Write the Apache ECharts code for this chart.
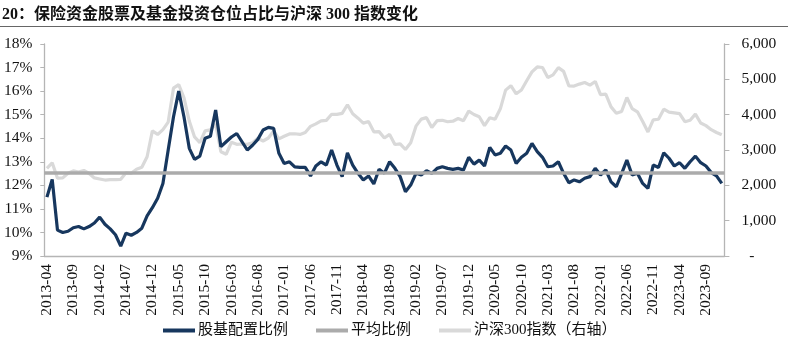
<!DOCTYPE html>
<html><head><meta charset="utf-8">
<script src="https://cdn.jsdelivr.net/npm/echarts@6/dist/echarts.min.js"></script>
<style>html,body{margin:0;padding:0;background:#fff}#c{width:788px;height:343px}</style>
</head><body><div id="c"></div>
<script>
const months = [
 '2013-04','2013-05','2013-06','2013-07','2013-08','2013-09','2013-10','2013-11','2013-12',
 '2014-01','2014-02','2014-03','2014-04','2014-05','2014-06','2014-07','2014-08','2014-09','2014-10','2014-11','2014-12',
 '2015-01','2015-02','2015-03','2015-04','2015-05','2015-06','2015-07','2015-08','2015-09','2015-10','2015-11','2015-12',
 '2016-01','2016-02','2016-03','2016-04','2016-05','2016-06','2016-07','2016-08','2016-09','2016-10','2016-11','2016-12',
 '2017-01','2017-02','2017-03','2017-04','2017-05','2017-06','2017-07','2017-08','2017-09','2017-10','2017-11','2017-12',
 '2018-01','2018-02','2018-03','2018-04','2018-05','2018-06','2018-07','2018-08','2018-09','2018-10','2018-11','2018-12',
 '2019-01','2019-02','2019-03','2019-04','2019-05','2019-06','2019-07','2019-08','2019-09','2019-10','2019-11','2019-12',
 '2020-01','2020-02','2020-03','2020-04','2020-05','2020-06','2020-07','2020-08','2020-09','2020-10','2020-11','2020-12',
 '2021-01','2021-02','2021-03','2021-04','2021-05','2021-06','2021-07','2021-08','2021-09','2021-10','2021-11','2021-12',
 '2022-01','2022-02','2022-03','2022-04','2022-05','2022-06','2022-07','2022-08','2022-09','2022-10','2022-11','2022-12',
 '2023-01','2023-02','2023-03','2023-04','2023-05','2023-06','2023-07','2023-08','2023-09','2023-10','2023-11','2023-12'
];
// 股基配置比例 (%)
const ratio = [
 11.5,12.25,10.1,10.0,10.05,10.2,10.25,10.15,10.25,
 10.4,10.65,10.35,10.15,9.9,9.42,9.97,9.88,10.0,10.18,10.7,11.05,
 11.45,12.08,13.5,14.9,16.0,14.9,13.57,13.1,13.24,14.0,14.08,15.2,
 13.64,13.85,14.05,14.2,13.85,13.5,13.7,13.95,14.35,14.46,14.42,13.36,
 12.93,13.0,12.78,12.76,12.76,12.4,12.82,13.0,12.86,13.5,12.86,12.37,
 13.38,12.86,12.51,12.23,12.4,12.06,12.68,12.51,13.0,12.72,12.37,11.73,
 12.01,12.51,12.44,12.62,12.51,12.72,12.79,12.72,12.68,12.72,12.65,13.19,
 12.9,13.07,12.82,13.61,13.29,13.36,13.67,13.5,12.93,13.19,13.36,13.78,
 13.43,13.19,12.79,12.82,13.0,12.51,12.11,12.23,12.15,12.3,12.37,12.72,
 12.44,12.65,12.15,11.94,12.5,13.07,12.44,12.51,12.08,11.87,12.86,12.76,
 13.38,13.15,12.82,12.96,12.72,13.0,13.24,12.96,12.82,12.54,12.4,12.08
];
// 沪深300指数
const hs300 = [
 2480,2640,2200,2210,2340,2410,2375,2420,2335,
 2210,2180,2150,2160,2160,2170,2355,2340,2455,2510,2810,3540,
 3440,3575,3790,4750,4850,4475,3820,3370,3210,3540,3570,3735,
 2950,2880,3220,3160,3170,3160,3205,3330,3255,3340,3540,3315,
 3390,3455,3460,3440,3495,3670,3740,3825,3840,4010,4010,4035,
 4280,4025,3900,3760,3805,3515,3520,3340,3440,3155,3175,3015,
 3205,3675,3875,3915,3635,3830,3840,3800,3815,3890,3830,4100,
 4005,3940,3690,3915,3870,4165,4695,4820,4590,4700,4960,5210,
 5350,5335,5050,5125,5330,5225,4815,4810,4865,4910,4835,4940,
 4565,4580,4220,4040,4090,4485,4170,4080,3805,3510,3855,3870,
 4155,4070,4050,4030,3800,3840,4015,3765,3690,3575,3495,3430
];
const avgRatio = 12.55;
const seriesNames = ['股基配置比例','平均比例','沪深300指数（右轴）'];
const titleText = '20：保险资金股票及基金投资仓位占比与沪深 300 指数变化';

const serif = '"Liberation Serif","Times New Roman","Noto Sans CJK SC",serif';
const chart = echarts.init(document.getElementById('c'), null, {renderer:'canvas'});
chart.setOption({
  animation:false,
  backgroundColor:'#fff',
  title:{text:titleText,left:-3,top:2,textStyle:{fontSize:16,fontWeight:'bold',color:'#111',fontFamily:serif}},
  graphic:[{type:'line',shape:{x1:0,y1:26.5,x2:788,y2:26.5},style:{stroke:'#666',lineWidth:1}}],
  grid:{left:44.3,right:63.6,top:44,bottom:87,containLabel:false},
  legend:{
    left:158,top:318,itemWidth:32,itemHeight:4,itemGap:28,icon:'rect',
    textStyle:{fontSize:15,color:'#111',fontFamily:serif,padding:[0,0,0,-2]},
    data:seriesNames
  },
  xAxis:{
    type:'category',data:months,boundaryGap:true,
    axisLine:{lineStyle:{color:'#b5b5b5',width:1.3}},
    axisTick:{interval:4,length:5,lineStyle:{color:'#b5b5b5'}},
    axisLabel:{interval:4,rotate:90,margin:8,fontSize:15.5,color:'#111',fontFamily:serif}
  },
  yAxis:[
    {type:'value',min:9,max:18,interval:1,splitLine:{show:false},
     axisLine:{show:true,lineStyle:{color:'#b5b5b5',width:1.3}},
     axisTick:{show:true,length:4,lineStyle:{color:'#b5b5b5'}},
     axisLabel:{formatter:'{value}%',margin:12,fontSize:15.5,color:'#111',fontFamily:serif}},
    {type:'value',min:0,max:6000,interval:1000,splitLine:{show:false},position:'right',
     axisLine:{show:true,lineStyle:{color:'#b5b5b5',width:1.3}},
     axisTick:{show:true,length:5,lineStyle:{color:'#b5b5b5'}},
     axisLabel:{formatter:function(v){return v===0?'  -':v.toLocaleString('en-US');},margin:17,fontSize:15.5,color:'#111',fontFamily:serif}}
  ],
  series:[
    {name:seriesNames[2],type:'line',yAxisIndex:1,data:hs300,showSymbol:false,symbol:'none',z:2,
     lineStyle:{color:'#d9d9d9',width:3.2},itemStyle:{color:'#d9d9d9'}},
    {name:seriesNames[1],type:'line',yAxisIndex:0,data:[],symbol:'none',z:3,
     lineStyle:{color:'#ababab',width:3.5},itemStyle:{color:'#ababab'},
     markLine:{silent:true,symbol:'none',label:{show:false},
       lineStyle:{color:'#ababab',width:3.5,type:'solid'},data:[{yAxis:avgRatio}]}},
    {name:seriesNames[0],type:'line',yAxisIndex:0,data:ratio,showSymbol:false,symbol:'none',z:4,
     lineStyle:{color:'#17375e',width:3.2},itemStyle:{color:'#17375e'}}
  ]
});
</script></body></html>
